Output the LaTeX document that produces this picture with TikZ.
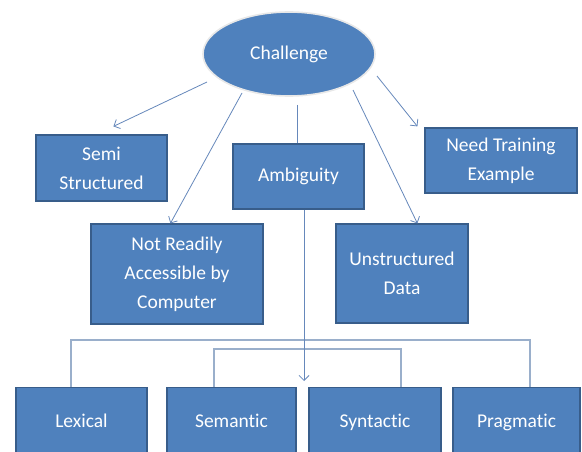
\documentclass[tikz,border=0pt]{standalone}
\usepackage{fontspec}
\setmainfont[RawFeature={-liga;-clig;-calt;-dlig}]{Carlito}
\usetikzlibrary{arrows.meta,calc,shapes.geometric}
\definecolor{boxfill}{HTML}{4F81BD}
\definecolor{boxline}{HTML}{385D8A}
\definecolor{arrline}{HTML}{6688BB}
\definecolor{brkline}{HTML}{9AAFCB}
\begin{document}
\begin{tikzpicture}[x=1pt,y=-1pt,
  box/.style={rectangle, fill=boxfill, draw=boxline, line width=1.2pt, text=white,
    align=center, inner sep=2pt, font=\fontsize{19.5}{29}\selectfont},
  oneline/.style={text height=14pt, text depth=4.5pt},
  oval/.style={ellipse, fill=boxfill, draw=white!82!gray, line width=1.6pt, text=white,
    inner sep=0pt, minimum width=172pt, minimum height=84pt, font=\fontsize{19.5}{29}\selectfont},
  arr/.style={draw=arrline, line width=0.8pt, -{Straight Barb[length=5pt,width=10pt]}},
  plain/.style={draw=arrline, line width=0.8pt},
  brk/.style={draw=brkline, line width=1.4pt}]
\useasboundingbox (0,0) rectangle (582,452);
\fill[white] (0,0) rectangle (582,452);

\node[oval] (ch) at (289,54) {Challenge};

\node[box, minimum width=131pt, minimum height=66pt] (semi) at (101.5,168) {Semi\\Structured};
\node[box, minimum width=152pt, minimum height=65pt] (need) at (501,160.5) {Need Training\\Example};
\node[box, oneline, minimum width=131pt, minimum height=65pt] (amb) at (298.5,176.5) {Ambiguity};
\node[box, minimum width=172pt, minimum height=100pt] (notr) at (177,274) {Not Readily\\Accessible by\\Computer};
\node[box, minimum width=132pt, minimum height=99pt] (unst) at (402,273.5) {Unstructured\\Data};

\node[box, oneline, minimum width=131pt, minimum height=70pt, anchor=north] (lex) at (81.5,387) {Lexical};
\node[box, oneline, minimum width=129pt, minimum height=70pt, anchor=north] (sem) at (231.5,387) {Semantic};
\node[box, oneline, minimum width=132pt, minimum height=70pt, anchor=north] (syn) at (375,387) {Syntactic};
\node[box, oneline, minimum width=127pt, minimum height=70pt, anchor=north] (prag) at (516.5,387) {Pragmatic};

% connectors from Challenge
\draw[arr] ($(ch.center)+(-82,28)$) -- ($(semi.north west)+(78,-8)$);
\draw[arr] ($(ch.center)+(-47,39)$) -- ($(notr.north west)+(80,0)$);
\draw[plain] ($(ch.center)+(8,51)$) -- ($(amb.north)+(-1.5,0)$);
\draw[arr] ($(ch.center)+(64,36)$) -- ($(unst.north west)+(82,0)$);
\draw[arr] ($(ch.center)+(88,22)$) -- ($(need.north west)+(-7,-1)$);

% brackets under Ambiguity
\draw[brk] ([xshift=-10.5pt]lex.north) -- ++(0,-47) -| ([xshift=13.5pt]prag.north);
\draw[brk] ([xshift=-17.5pt]sem.north) -- ++(0,-38) -| ([xshift=26pt]syn.north);

% Ambiguity down arrow
\coordinate (ambtip) at (304,381);
\draw[arr] ($(amb.south)+(5.5,0)$) -- (ambtip);
\end{tikzpicture}
\end{document}
